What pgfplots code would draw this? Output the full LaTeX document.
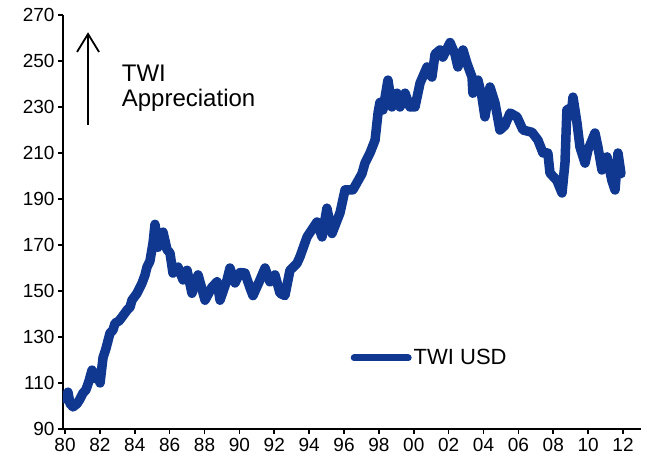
\documentclass[border=0pt]{standalone}
\usepackage{fontspec}
\setmainfont{Liberation Sans}
\usepackage{pgfplots}
\pgfplotsset{compat=1.18}
\usetikzlibrary{arrows.meta}
\definecolor{twiblue}{RGB}{16,56,145}

\begin{document}
\begin{tikzpicture}
\useasboundingbox (-63pt,-28pt) rectangle (584pt,429pt);
\begin{axis}[
  at={(0,0)}, anchor=south west,
  scale only axis, width=578pt, height=414pt,
  xmin=1979.885, xmax=2013.03, ymin=90, ymax=270,
  axis x line=bottom, axis y line=left,
  axis line style={line width=2.5pt, -},
  xtick={1980,1982,...,2012},
  xticklabels={80,82,84,86,88,90,92,94,96,98,00,02,04,06,08,10,12},
  ytick={90,110,...,270},
  tick align=outside,
  major tick length=5pt,
  tick style={line width=1.6pt, black},
  tick label style={font=\fontsize{19}{19}\selectfont},
  xticklabel style={yshift=-1pt},
  /pgf/number format/assume math mode=true,
  legend style={at={(axis description cs:0.4974,0.1715)}, anchor=west,
    draw=none, fill=none, inner sep=0pt,
    font=\fontsize{22}{22}\selectfont},
  legend cell align=left,
  legend image code/.code={\draw[#1, line width=7pt, line cap=round] (0pt,0pt) -- (54pt,0pt);},
]
\addplot[twiblue, line width=9.5pt, line join=round, line cap=round] table {
1980.00 103
1980.17 106
1980.29 101
1980.46 99.6
1980.69 101
1980.86 103
1981.03 105.6
1981.20 107
1981.38 111
1981.55 115.6
1981.72 112
1981.89 114
1982.01 110
1982.18 121
1982.35 125
1982.58 131.7
1982.75 133
1982.87 136
1983.10 137
1983.27 138.7
1983.56 141.7
1983.73 143
1983.84 146
1984.13 149
1984.42 153.5
1984.59 157
1984.70 160.4
1984.87 163
1985.05 171
1985.16 179
1985.33 169
1985.62 175.6
1985.85 168
1986.02 166.5
1986.19 157.8
1986.48 160.4
1986.77 154.8
1987.00 159
1987.28 149
1987.63 157
1988.03 146
1988.43 151.7
1988.72 154
1988.89 146
1989.29 154.8
1989.46 160
1989.75 153.5
1990.03 158
1990.32 157.8
1990.61 151.3
1990.78 148
1991.18 154.8
1991.47 160
1991.75 154
1992.04 157
1992.33 149
1992.61 148
1992.90 159
1993.30 162
1993.47 164.8
1993.88 173.5
1994.45 180
1994.74 173.5
1995.02 186
1995.31 175
1995.77 184
1996.06 194
1996.51 194
1997.03 201
1997.20 205.6
1997.49 210
1997.78 215.6
1997.95 227.4
1998.06 232
1998.23 228.7
1998.52 241.7
1998.75 230
1999.04 236
1999.21 230
1999.50 236
1999.78 230
2000.07 230
2000.36 240.4
2000.76 247.4
2001.04 243
2001.22 253
2001.50 254.8
2001.67 251.7
2002.08 258
2002.36 253
2002.53 247.4
2002.82 254.8
2003.05 249
2003.34 243
2003.39 236
2003.68 241.7
2003.91 234.3
2004.08 225.7
2004.37 238.7
2004.66 231.7
2004.94 220
2005.23 222
2005.52 227.4
2005.92 225.7
2006.26 220
2006.78 219
2007.12 215.6
2007.41 210
2007.69 210
2007.81 201.3
2008.21 198
2008.50 192.6
2008.67 205.6
2008.78 228.7
2009.07 230
2009.13 234.3
2009.36 223
2009.53 212.6
2009.82 205.6
2009.99 211.3
2010.39 218.7
2010.56 212.6
2010.79 202.6
2011.08 208.3
2011.36 198
2011.54 193.9
2011.71 210
2011.88 201
};
\addlegendentry{TWI USD}
\draw[line width=1.8pt, -{Straight Barb[length=18pt,width=22pt,line width=1.8pt]}]
  (axis cs:1981.32,222.2) -- (axis cs:1981.32,262.5);
\node[anchor=base west, inner sep=0pt, font=\fontsize{24}{28}\selectfont] at (axis cs:1983.25,241.3) {TWI};
\node[anchor=base west, inner sep=0pt, font=\fontsize{24}{28}\selectfont] at (axis cs:1983.25,230.4) {Appreciation};
\end{axis}
\end{tikzpicture}
\end{document}
